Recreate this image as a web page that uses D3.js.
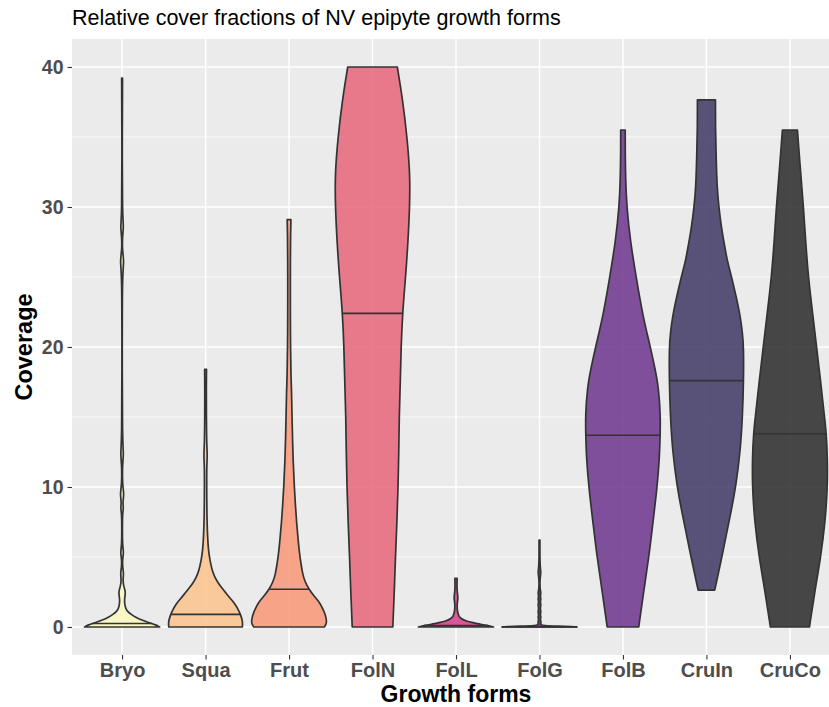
<!DOCTYPE html>
<html>
<head>
<meta charset="utf-8">
<script src="https://cdn.jsdelivr.net/npm/d3@7"></script>
<style>
  html, body { margin: 0; padding: 0; background: #ffffff; }
  svg { display: block; }
  text { font-family: "Liberation Sans", Arial, Helvetica, sans-serif; }
</style>
</head>
<body>
<svg id="chart" width="829" height="707"></svg>
<script>
// ---------------- data ----------------
const categories = ["Bryo", "Squa", "Frut", "FolN", "FolL", "FolG", "FolB", "CruIn", "CruCo"];
const fillColors = ["#FAF7C0", "#FBC591", "#F79B7C", "#E76D80", "#D54795", "#6E2A78", "#733E93", "#48416D", "#343434"];
const medians = [0.25, 0.9, 2.7, 22.4, 0.1, 0, 13.7, 17.6, 13.8];
const yTicks = [0, 10, 20, 30, 40];
const yMinorTicks = [5, 15, 25, 35];

// density profiles: [coverage value, relative width (1 = widest point of that violin)]
const bryoProfile = [[0,1.0],[0.15,0.9],[0.3,0.72],[0.5,0.52],[0.7,0.36],[0.9,0.24],[1.1,0.15],[1.3,0.1],[1.6,0.07],[2.0,0.06],[2.5,0.1],[2.9,0.04],[3.4,0.02],[3.8,0.045],[4.3,0.012],[4.9,0.012],[5.3,0.045],[5.8,0.01],[7.2,0.008],[8.1,0.012],[8.5,0.04],[8.9,0.015],[9.5,0.055],[10.1,0.01],[11.6,0.008],[12.4,0.045],[13.2,0.006],[20,0.004],[25.3,0.006],[26.1,0.055],[26.9,0.006],[27.9,0.008],[28.6,0.045],[29.3,0.006],[35,0.004],[39.2,0.012]];
const squaProfile = [[0,0.98],[0.4,0.99],[0.9,0.93],[1.3,0.86],[1.7,0.77],[2.0,0.67],[2.4,0.55],[2.8,0.43],[3.2,0.32],[3.6,0.24],[4.0,0.18],[4.7,0.12],[5.5,0.075],[6.6,0.05],[8.0,0.035],[10,0.03],[11.5,0.03],[12.3,0.05],[13.0,0.03],[15,0.022],[17,0.02],[18.4,0.025]];
const frutProfile = [[0,0.94],[0.2,0.99],[0.45,1.0],[0.7,0.98],[1.0,0.95],[1.4,0.88],[1.8,0.8],[2.2,0.67],[2.7,0.53],[3.2,0.43],[3.8,0.36],[4.5,0.32],[5.2,0.28],[6.3,0.24],[7.5,0.2],[8.7,0.17],[10,0.14],[11.8,0.11],[13.7,0.09],[15,0.08],[16.5,0.07],[18,0.05],[20,0.04],[22,0.035],[24,0.035],[26,0.035],[28,0.04],[29.1,0.05]];
const folNProfile = [[0,0.54],[2.5,0.58],[5,0.61],[7.5,0.65],[10,0.68],[12.5,0.7],[15,0.71],[17.5,0.74],[20,0.76],[22.45,0.8],[25,0.88],[27.3,0.94],[30,0.99],[32.3,1.0],[35,0.92],[37.7,0.8],[40,0.66]];
const folLProfile = [[0,1.0],[0.1,0.85],[0.2,0.65],[0.3,0.45],[0.45,0.25],[0.6,0.13],[0.8,0.07],[1.0,0.05],[1.3,0.03],[1.7,0.03],[2.1,0.06],[2.5,0.03],[3.0,0.025],[3.47,0.03]];
const folGProfile = [[0,1.0],[0.03,0.9],[0.06,0.5],[0.1,0.1],[0.15,0.025],[0.4,0.045],[0.55,0.015],[0.7,0.045],[0.85,0.015],[1.1,0.045],[1.3,0.015],[1.6,0.045],[1.8,0.015],[2.0,0.045],[2.2,0.015],[2.4,0.045],[2.7,0.012],[3.5,0.012],[3.9,0.045],[4.3,0.01],[6.2,0.012]];
const folBProfile = [[0,0.42],[2.5,0.55],[5,0.69],[7.5,0.8],[10,0.91],[12,0.97],[13.7,0.99],[15,1.0],[17.1,0.95],[18.5,0.85],[20,0.73],[22.2,0.53],[25,0.35],[27.5,0.2],[30,0.1],[32,0.07],[34,0.06],[35.5,0.06]];
const cruInProfile = [[2.63,0.22],[4,0.33],[5.5,0.45],[6.6,0.53],[8.3,0.66],[10,0.78],[12.5,0.9],[15,0.96],[17.65,0.99],[20,0.99],[21,0.96],[22.2,0.9],[23.5,0.8],[25,0.67],[26.2,0.55],[27.3,0.48],[28.5,0.4],[30,0.33],[31.5,0.28],[33.5,0.26],[35.5,0.24],[37.65,0.24]];
const cruCoProfile = [[0,0.52],[2.5,0.66],[5,0.82],[7.5,0.94],[10,1.0],[12,1.0],[13.8,0.97],[15,0.92],[17.5,0.82],[20,0.71],[22.5,0.6],[25,0.49],[27.5,0.42],[30,0.36],[32,0.3],[34,0.24],[35.5,0.2]];
const profiles = [bryoProfile, squaProfile, frutProfile, folNProfile, folLProfile, folGProfile, folBProfile, cruInProfile, cruCoProfile];

const titleText = "Relative cover fractions of NV epipyte growth forms";
const xTitle = "Growth forms";
const yTitle = "Coverage";

// ---------------- layout ----------------
const svg = d3.select("#chart");
const panel = { left: 72, right: 840, top: 39, bottom: 655 };
const step = (panel.right - panel.left) / 9.2;

const x = d3.scalePoint().domain(categories)
  .range([panel.left + 0.6 * step, panel.right - 0.6 * step]);
const y = d3.scaleLinear().domain([-2, 42]).range([panel.bottom, panel.top]);
const halfMax = 0.45 * step;

// panel background
svg.append("rect")
  .attr("x", panel.left).attr("y", panel.top)
  .attr("width", panel.right - panel.left).attr("height", panel.bottom - panel.top)
  .attr("fill", "#EBEBEB");

// grid
const grid = svg.append("g");
grid.selectAll("line.minor").data(yMinorTicks).join("line")
  .attr("x1", panel.left).attr("x2", panel.right)
  .attr("y1", d => y(d)).attr("y2", d => y(d))
  .attr("stroke", "#ffffff").attr("stroke-width", 0.8);
grid.selectAll("line.majy").data(yTicks).join("line")
  .attr("x1", panel.left).attr("x2", panel.right)
  .attr("y1", d => y(d)).attr("y2", d => y(d))
  .attr("stroke", "#ffffff").attr("stroke-width", 1.5);
grid.selectAll("line.majx").data(categories).join("line")
  .attr("x1", d => x(d)).attr("x2", d => x(d))
  .attr("y1", panel.top).attr("y2", panel.bottom)
  .attr("stroke", "#ffffff").attr("stroke-width", 1.5);

// violins
const violins = svg.append("g");
categories.forEach((cat, i) => {
  const cx = x(cat);
  const prof = profiles[i];
  const area = d3.area()
    .y(d => y(d[0]))
    .x0(d => cx - d[1] * halfMax)
    .x1(d => cx + d[1] * halfMax)
    .curve(d3.curveBasis);
  violins.append("path")
    .attr("d", area(prof))
    .attr("fill", fillColors[i])
    .attr("fill-opacity", 0.9)
    .attr("stroke", "#333333")
    .attr("stroke-width", 1.7)
    .attr("stroke-linejoin", "round");
  // median line
  const m = medians[i];
  const vals = prof.map(d => d[0]);
  let w;
  if (m <= vals[0]) w = prof[0][1];
  else if (m >= vals[vals.length - 1]) w = prof[prof.length - 1][1];
  else {
    const j = d3.bisectRight(vals, m);
    const a = prof[j - 1], b = prof[j];
    w = a[1] + (b[1] - a[1]) * (m - a[0]) / (b[0] - a[0]);
  }
  violins.append("line")
    .attr("x1", cx - w * halfMax).attr("x2", cx + w * halfMax)
    .attr("y1", y(m)).attr("y2", y(m))
    .attr("stroke", "#333333").attr("stroke-width", 1.6);
});

// axes
const yAxis = d3.axisLeft(y).tickValues(yTicks).tickSize(4.5).tickPadding(4);
const gy = svg.append("g").attr("transform", `translate(${panel.left},0)`).call(yAxis);
gy.select(".domain").remove();
gy.selectAll(".tick line").attr("stroke", "#333333").attr("stroke-width", 1.1);
gy.selectAll(".tick text").attr("fill", "#4D4D4D").attr("font-size", 19.5)
  .attr("font-weight", "bold").attr("font-family", "'Liberation Sans', Arial, sans-serif");

const xAxis = d3.axisBottom(x).tickSize(4.5).tickPadding(3);
const gx = svg.append("g").attr("transform", `translate(0,${panel.bottom})`).call(xAxis);
gx.select(".domain").remove();
gx.selectAll(".tick line").attr("stroke", "#333333").attr("stroke-width", 1.1);
gx.selectAll(".tick text").attr("fill", "#4D4D4D").attr("font-size", 20)
  .attr("font-weight", "bold").attr("font-family", "'Liberation Sans', Arial, sans-serif");

// titles
svg.append("text")
  .attr("x", panel.left).attr("y", 25)
  .attr("font-size", 21.5).attr("fill", "#000000")
  .text(titleText);

svg.append("text")
  .attr("x", (panel.left + panel.right) / 2).attr("y", 702)
  .attr("text-anchor", "middle")
  .attr("font-size", 23).attr("font-weight", "bold").attr("fill", "#000000")
  .text(xTitle);

svg.append("text")
  .attr("transform", `translate(32,${(panel.top + panel.bottom) / 2}) rotate(-90)`)
  .attr("text-anchor", "middle")
  .attr("font-size", 23.5).attr("font-weight", "bold").attr("fill", "#000000")
  .text(yTitle);
</script>
</body>
</html>
